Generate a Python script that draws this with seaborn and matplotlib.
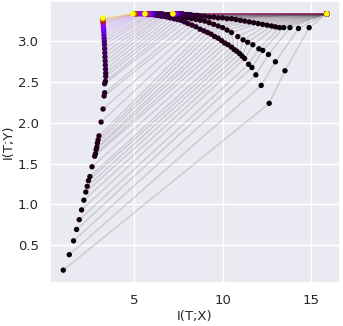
import numpy as np
import pandas as pd
import matplotlib
matplotlib.use("Agg")
import matplotlib.pyplot as plt
import seaborn as sns

# -----------------------------------------------------------------------------
# DATA (information plane, 5 layers per recorded epoch)
# -----------------------------------------------------------------------------

epochs = [0, 1, 2, 3, 4, 5, 6, 7, 8, 9,
          10, 11, 12, 13, 14, 15, 16, 17, 18, 20,
          22, 24, 26, 28, 30, 33, 36, 40, 44, 48,
          53, 58, 64, 72, 80, 100, 130, 160, 200, 250,
          320, 400, 500, 620, 780, 1000]

# layer 1 (input side)
l1_x = [15.86, 15.86, 15.86, 15.86, 15.86, 15.86, 15.86, 15.86, 15.86, 15.86,
        15.86, 15.86, 15.86, 15.86, 15.86, 15.86, 15.86, 15.86, 15.86, 15.86,
        15.86, 15.86, 15.86, 15.86, 15.86, 15.86, 15.86, 15.86, 15.86, 15.86,
        15.86, 15.86, 15.86, 15.86, 15.86, 15.86, 15.86, 15.86, 15.86, 15.86,
        15.86, 15.86, 15.86, 15.86, 15.86, 15.86]
l1_y = [3.34, 3.34, 3.34, 3.34, 3.34, 3.34, 3.34, 3.34, 3.34, 3.34,
        3.34, 3.34, 3.34, 3.34, 3.34, 3.34, 3.34, 3.34, 3.34, 3.34,
        3.34, 3.34, 3.34, 3.34, 3.34, 3.34, 3.34, 3.34, 3.34, 3.34,
        3.34, 3.34, 3.34, 3.34, 3.34, 3.34, 3.34, 3.34, 3.34, 3.34,
        3.34, 3.34, 3.34, 3.34, 3.34, 3.34]

# layer 2
l2_x = [14.87, 14.27, 13.79, 13.44, 13.20, 12.97, 12.75, 12.50, 12.25, 12.00,
        11.75, 11.50, 11.25, 11.00, 10.75, 10.50, 10.25, 10.00, 9.75, 9.50,
        9.25, 9.00, 8.80, 8.60, 8.45, 8.30, 8.20, 8.05, 7.95, 7.85,
        7.75, 7.68, 7.62, 7.56, 7.50, 7.45, 7.40, 7.36, 7.32, 7.29,
        7.26, 7.24, 7.22, 7.21, 7.20, 7.20]
l2_y = [3.17, 3.16, 3.17, 3.17, 3.17, 3.18, 3.19, 3.20, 3.21, 3.22,
        3.23, 3.24, 3.25, 3.26, 3.27, 3.28, 3.28, 3.29, 3.29, 3.30,
        3.30, 3.31, 3.31, 3.32, 3.32, 3.32, 3.33, 3.33, 3.33, 3.33,
        3.34, 3.34, 3.34, 3.34, 3.34, 3.34, 3.34, 3.34, 3.34, 3.34,
        3.34, 3.34, 3.34, 3.34, 3.34, 3.34]

# layer 3
l3_x = [13.51, 12.97, 12.58, 12.26, 12.04, 11.70, 11.41, 11.15, 10.85, 10.50,
        10.25, 10.00, 9.75, 9.50, 9.25, 9.00, 8.75, 8.50, 8.25, 8.00,
        7.80, 7.60, 7.40, 7.25, 7.10, 6.95, 6.80, 6.70, 6.60, 6.50,
        6.40, 6.32, 6.25, 6.18, 6.12, 6.06, 6.00, 5.95, 5.90, 5.85,
        5.80, 5.76, 5.72, 5.68, 5.65, 5.62]
l3_y = [2.64, 2.75, 2.84, 2.89, 2.91, 2.96, 2.99, 3.02, 3.06, 3.11,
        3.14, 3.17, 3.19, 3.21, 3.23, 3.25, 3.26, 3.27, 3.28, 3.29,
        3.30, 3.31, 3.31, 3.32, 3.32, 3.33, 3.33, 3.33, 3.34, 3.34,
        3.34, 3.34, 3.34, 3.34, 3.34, 3.34, 3.34, 3.34, 3.34, 3.34,
        3.34, 3.34, 3.34, 3.34, 3.34, 3.34]

# layer 4
l4_x = [12.62, 12.17, 11.87, 11.65, 11.46, 11.24, 11.10, 10.96, 10.80, 10.65,
        10.50, 10.30, 10.12, 9.94, 9.75, 9.55, 9.35, 9.15, 8.95, 8.73,
        8.50, 8.28, 8.05, 7.85, 7.65, 7.45, 7.25, 7.05, 6.85, 6.70,
        6.55, 6.40, 6.25, 6.10, 5.95, 5.80, 5.65, 5.55, 5.45, 5.35,
        5.25, 5.15, 5.10, 5.05, 5.00, 4.95]
l4_y = [2.24, 2.46, 2.59, 2.68, 2.72, 2.79, 2.82, 2.85, 2.88, 2.90,
        2.93, 2.96, 2.98, 3.01, 3.04, 3.06, 3.09, 3.11, 3.13, 3.15,
        3.18, 3.20, 3.22, 3.24, 3.26, 3.27, 3.28, 3.29, 3.30, 3.31,
        3.31, 3.32, 3.32, 3.33, 3.33, 3.33, 3.34, 3.34, 3.34, 3.34,
        3.34, 3.34, 3.34, 3.34, 3.34, 3.34]

# layer 5 (output side)
l5_x = [1.03, 1.37, 1.61, 1.78, 1.93, 2.06, 2.19, 2.30, 2.38, 2.45,
        2.53, 2.65, 2.80, 2.84, 2.88, 2.92, 2.95, 2.99, 3.04, 3.16,
        3.27, 3.33, 3.36, 3.36, 3.40, 3.42, 3.42, 3.41, 3.40, 3.39,
        3.38, 3.37, 3.36, 3.35, 3.34, 3.33, 3.32, 3.31, 3.30, 3.29,
        3.28, 3.27, 3.27, 3.26, 3.26, 3.26]
l5_y = [0.19, 0.38, 0.55, 0.69, 0.81, 0.93, 1.05, 1.15, 1.22, 1.29,
        1.34, 1.46, 1.59, 1.62, 1.67, 1.70, 1.75, 1.79, 1.84, 2.01,
        2.17, 2.33, 2.37, 2.48, 2.51, 2.57, 2.61, 2.66, 2.71, 2.76,
        2.81, 2.86, 2.91, 2.96, 3.00, 3.04, 3.08, 3.12, 3.15, 3.18,
        3.21, 3.23, 3.25, 3.27, 3.28, 3.29]

layers_x = [l5_x, l4_x, l3_x, l2_x, l1_x]
layers_y = [l5_y, l4_y, l3_y, l2_y, l1_y]

rows = []
for i, ep in enumerate(epochs):
    for k in range(len(layers_x)):
        rows.append({"epoch": ep, "layer": k,
                     "I(T;X)": layers_x[k][i], "I(T;Y)": layers_y[k][i]})
df = pd.DataFrame(rows)

# -----------------------------------------------------------------------------
# PLOT
# -----------------------------------------------------------------------------

sns.set_theme(style="darkgrid")
cmap = plt.get_cmap("gnuplot")
max_ep = max(epochs)

fig, ax = plt.subplots(figsize=(3.43, 3.26), dpi=100)

for ep, grp in df.groupby("epoch"):
    grp = grp.sort_values("layer")
    ax.plot(grp["I(T;X)"], grp["I(T;Y)"], color=cmap(ep / max_ep),
            alpha=0.14, linewidth=1, zorder=1)

sns.scatterplot(data=df, x="I(T;X)", y="I(T;Y)", hue="epoch",
                palette="gnuplot", hue_norm=(0, max_ep), s=15,
                edgecolor="none", legend=False, ax=ax, zorder=2)

ax.set_xticks([5, 10, 15])
ax.tick_params(labelsize=9.5, pad=2)
ax.set_xlabel("I(T;X)", fontsize=9.5, labelpad=2)
ax.set_ylabel("I(T;Y)", fontsize=9.5, labelpad=2)

plt.subplots_adjust(left=0.146, right=0.991, top=0.997, bottom=0.132)
plt.savefig("out.png", dpi=100)
plt.close()
